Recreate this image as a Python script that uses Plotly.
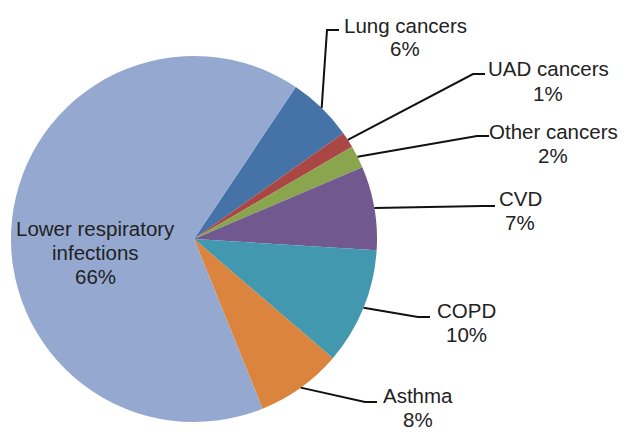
import math
import plotly.graph_objects as go

# ---- data ----
categories = ["Lung cancers", "UAD cancers", "Other cancers", "CVD", "COPD", "Asthma",
              "Lower respiratory infections"]
label_lines = [["Lung cancers"], ["UAD cancers"], ["Other cancers"], ["CVD"], ["COPD"],
               ["Asthma"], ["Lower respiratory", "infections"]]
values = [5.8, 1.4, 2.0, 7.4, 10.3, 7.6, 65.5]
colors = ["#4572A7", "#AA4643", "#89A54E", "#71588F", "#4198AF", "#DB843D", "#95A9D0"]

# ---- layout (pixels in the 627x434 window) ----
OFF = 8                      # page body margin
W, H = 627 - OFF, 434 - OFF  # figure size
CX, CY, R = 194, 239, 183
ROTATION = 33.8
LINE_PITCH = 24
label_pos = [(405, 37), (548, 81), (553, 143), (520, 210), (466, 322), (418, 407), (95, 252)]
elbows = [((327, 30), (339, 30)), ((473, 74), (485, 74)), ((477, 136), (489, 136)),
          ((483, 206), (495, 206)), ((418, 317), (430, 317)), ((365, 402), (377, 402)), None]

def px(x):
    return (x - OFF) / W

def py(y):
    return 1 - (y - OFF) / H

fig = go.Figure(go.Pie(
    labels=categories, values=values, sort=False, direction="clockwise",
    rotation=ROTATION, textinfo="none", hoverinfo="label+percent",
    marker=dict(colors=colors, line=dict(width=0)),
    domain=dict(x=[px(CX - R), px(CX + R)], y=[py(CY + R), py(CY - R)]),
    showlegend=False,
))

total = sum(values)
start = ROTATION
shapes = []
annotations = []
for i, v in enumerate(values):
    span = v / total * 360
    mid = math.radians(start + span / 2)
    start += span
    pct = f"{round(v / total * 100):.0f}%"
    lx, ly = label_pos[i]
    lines = label_lines[i] + [pct]
    n = len(lines)
    for k, t in enumerate(lines):
        yy = ly + (k - (n - 1) / 2) * LINE_PITCH
        annotations.append(dict(
            x=px(lx), y=py(yy), xref="paper", yref="paper", xanchor="center", yanchor="middle",
            text=t, showarrow=False, align="center",
            font=dict(family="Liberation Sans, Arial", size=20.5, color="#222222"),
        ))
    if elbows[i] is not None:
        sx = CX + R * math.sin(mid)
        sy = CY - R * math.cos(mid)
        (ex, ey), (fx, fy) = elbows[i]
        path = f"M {px(sx)},{py(sy)} L {px(ex)},{py(ey)} L {px(fx)},{py(fy)}"
        shapes.append(dict(type="path", path=path, xref="paper", yref="paper",
                           line=dict(color="#111111", width=2)))

fig.update_layout(
    width=W, height=H, margin=dict(l=0, r=0, t=0, b=0),
    paper_bgcolor="white", plot_bgcolor="white",
    shapes=shapes, annotations=annotations,
)

fig.write_html("out.html")
